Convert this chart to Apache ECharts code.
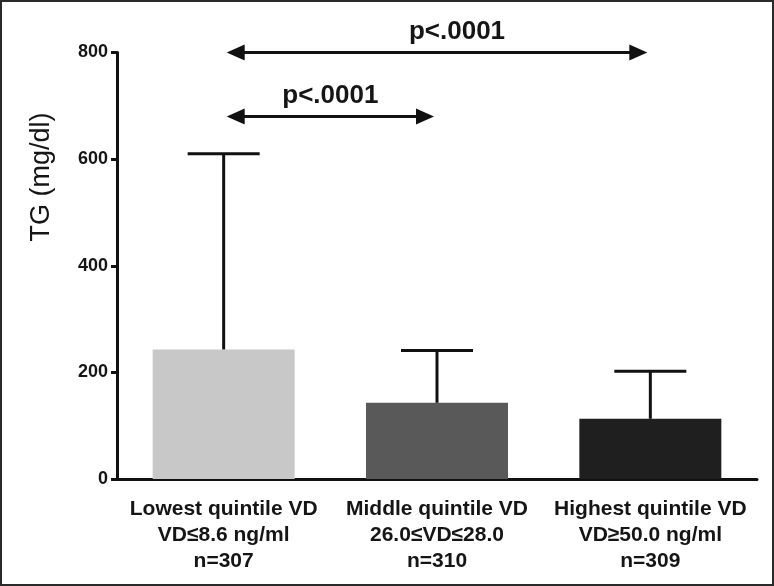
<!DOCTYPE html>
<html><head><meta charset="utf-8">
<script src="https://cdn.jsdelivr.net/npm/echarts@6/dist/echarts.min.js"></script>
<style>html,body{margin:0;padding:0;background:#fff}#c{width:774px;height:586px;box-sizing:border-box;border:2px solid #2a2a2a}</style>
</head><body><div id="c"></div>
<script>
const categories = ['Lowest quintile VD\nVD≤8.6 ng/ml\nn=307', 'Middle quintile VD\n26.0≤VD≤28.0\nn=310', 'Highest quintile VD\nVD≥50.0 ng/ml\nn=309'];
const means = [243, 143, 113];
const upperErr = [610, 241, 202];
const barColors = ['#c8c8c8', '#595959', '#1f1f1f'];
const yTicks = {min: 0, max: 800, interval: 200};
const pLabels = ['p<.0001', 'p<.0001'];
const compFrom = [0, 0];
const compTo = [2, 1];
const compLevel = [800, 680];
const yTitle = 'TG (mg/dl)';

const FONT = "'Liberation Sans', Arial, sans-serif";
const chart = echarts.init(document.getElementById('c'), null, {renderer: 'canvas'});
chart.setOption({
  animation: false,
  grid: {left: 115, right: 15, top: 50.5, bottom: 105},
  xAxis: {
    type: 'category', data: categories,
    axisLine: {lineStyle: {color: '#111', width: 3}},
    axisTick: {alignWithLabel: true, length: 6, lineStyle: {color: '#111', width: 3}},
    axisLabel: {interval: 0, fontFamily: FONT, fontWeight: 'bold', fontSize: 21, color: '#151515', lineHeight: 26, margin: 17}
  },
  yAxis: {
    type: 'value', min: yTicks.min, max: yTicks.max, interval: yTicks.interval,
    splitLine: {show: false},
    axisLine: {show: true, lineStyle: {color: '#111', width: 3}},
    axisTick: {show: true, length: 6, lineStyle: {color: '#111', width: 3}},
    axisLabel: {fontFamily: FONT, fontWeight: 'bold', fontSize: 18, color: '#151515', margin: 9}
  },
  graphic: [{
    type: 'text', x: 40, y: 175, rotation: Math.PI / 2,
    style: {text: yTitle, font: "27px 'Liberation Sans', Arial, sans-serif", fill: '#151515', textAlign: 'center', textVerticalAlign: 'middle'}
  }],
  series: [{
    type: 'bar', barWidth: 142,
    data: means.map((v, i) => ({value: v, itemStyle: {color: barColors[i]}}))
  }, {
    type: 'custom',
    data: upperErr.map((u, i) => [i, means[i], u]),
    renderItem: function (params, api) {
      const base = api.coord([api.value(0), api.value(1)]);
      const top = api.coord([api.value(0), api.value(2)]);
      const style = {stroke: '#111', lineWidth: 3};
      return {type: 'group', children: [
        {type: 'line', shape: {x1: base[0], y1: base[1], x2: top[0], y2: top[1]}, style: style},
        {type: 'line', shape: {x1: top[0] - 36, y1: top[1], x2: top[0] + 36, y2: top[1]}, style: style}
      ]};
    },
    z: 5
  }, {
    type: 'custom',
    data: compLevel.map((y, i) => [compFrom[i], compTo[i], y]),
    renderItem: function (params, api) {
      const a = api.coord([api.value(0), api.value(2)]);
      const b = api.coord([api.value(1), api.value(2)]);
      const y = a[1];
      const x1 = a[0] + 3, x2 = b[0] - 3;
      const L = 18, H = 8;
      const mid = (a[0] + b[0]) / 2 + (params.dataIndex === 0 ? 20 : 0);
      return {type: 'group', children: [
        {type: 'line', shape: {x1: x1 + L - 2, y1: y, x2: x2 - L + 2, y2: y}, style: {stroke: '#111', lineWidth: 3}},
        {type: 'polygon', shape: {points: [[x1, y], [x1 + L, y - H], [x1 + L, y + H]]}, style: {fill: '#111'}},
        {type: 'polygon', shape: {points: [[x2, y], [x2 - L, y - H], [x2 - L, y + H]]}, style: {fill: '#111'}},
        {type: 'text', x: mid, y: y - 21, style: {text: pLabels[params.dataIndex], font: "bold 26px 'Liberation Sans', Arial, sans-serif", fill: '#151515', textAlign: 'center', textVerticalAlign: 'middle'}}
      ]};
    },
    z: 6
  }]
});
</script></body></html>
